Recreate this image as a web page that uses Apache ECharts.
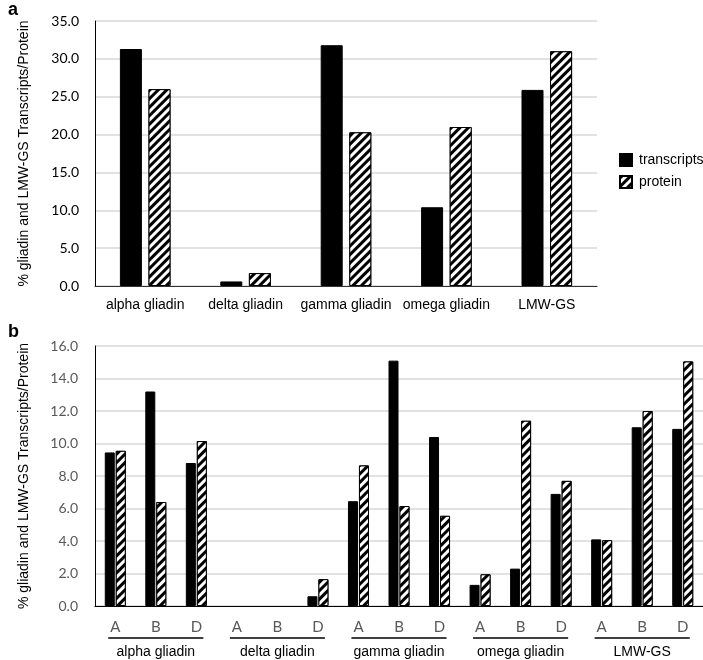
<!DOCTYPE html>
<html>
<head>
<meta charset="utf-8">
<script src="https://cdn.jsdelivr.net/npm/echarts@6/dist/echarts.min.js"></script>
<style>
html,body{margin:0;padding:0;background:#fff;}
#c{width:703px;height:660px;}
</style>
</head>
<body>
<div id="c"></div>
<script>
// ---- data ----
const categoriesA = ['alpha gliadin', 'delta gliadin', 'gamma gliadin', 'omega gliadin', 'LMW-GS'];
const transcriptsA = [31.3, 0.6, 31.8, 10.4, 25.9];
const proteinA = [26.0, 1.7, 20.3, 21.0, 31.0];

const genomeLabels = ['A', 'B', 'D', 'A', 'B', 'D', 'A', 'B', 'D', 'A', 'B', 'D', 'A', 'B', 'D'];
const groupLabels = ['alpha gliadin', 'delta gliadin', 'gamma gliadin', 'omega gliadin', 'LMW-GS'];
const transcriptsB = [9.45, 13.2, 8.8, 0, 0, 0.6, 6.45, 15.1, 10.4, 1.3, 2.3, 6.9, 4.1, 11.0, 10.9];
const proteinB = [9.55, 6.4, 10.15, 0, 0, 1.65, 8.65, 6.15, 5.55, 1.95, 11.4, 7.7, 4.05, 12.0, 15.05];

const seriesNames = ['transcripts', 'protein'];
const yTitle = '% gliadin and LMW-GS Transcripts/Protein';

// zero values are not drawn as visible bars in the original
const hideZero = arr => arr.map(v => (v === 0 ? null : v));

// ---- styles ----
const ARIAL = '"Liberation Sans", Arial, sans-serif';
const CAL = 'Lato, "Open Sans", sans-serif';
const hatch = {
  symbol: 'rect', symbolSize: 1,
  dashArrayX: [1, 0], dashArrayY: [3, 3],
  rotation: -Math.PI / 4, color: '#000', backgroundColor: '#fff'
};
const solidStyle = { color: '#000', borderColor: '#000', borderWidth: 1 };
const hatchStyle = { color: '#fff', borderColor: '#000', borderWidth: 1, decal: hatch };

const chart = echarts.init(document.getElementById('c'), null, { renderer: 'canvas' });

const option = {
  animation: false,
  aria: { enabled: false },
  title: [
    { text: 'a', left: 3, top: -4, textStyle: { fontFamily: ARIAL, fontWeight: 'bold', fontSize: 18, color: '#000' } },
    { text: 'b', left: 3, top: 318, textStyle: { fontFamily: ARIAL, fontWeight: 'bold', fontSize: 18, color: '#000' } }
  ],
  legend: {
    data: seriesNames.map(n => ({ name: n, icon: 'rect' })),
    orient: 'vertical',
    left: 614, top: 148,
    itemWidth: 12, itemHeight: 12, itemGap: 8,
    textStyle: { fontFamily: ARIAL, fontSize: 14, color: '#000', padding: [0, 0, 0, 2] }
  },
  grid: [
    { left: 95, top: 21, width: 502, height: 265 },
    { left: 95, top: 346, width: 608, height: 260 }
  ],
  xAxis: [
    {
      type: 'category', gridIndex: 0, data: categoriesA,
      axisLine: { lineStyle: { color: '#333', width: 1 } },
      axisTick: { show: false },
      axisLabel: { fontFamily: ARIAL, fontSize: 14, color: '#000', margin: 12, interval: 0 }
    },
    {
      type: 'category', gridIndex: 1, data: genomeLabels,
      axisLine: { lineStyle: { color: '#000', width: 1.2 } },
      axisTick: { show: false },
      axisLabel: { fontFamily: CAL, fontSize: 15, color: '#595959', margin: 14, interval: 0 }
    },
    {
      type: 'category', gridIndex: 1, data: groupLabels, position: 'bottom',
      axisLine: { show: false }, axisTick: { show: false }, splitLine: { show: false },
      axisLabel: {
        interval: 0, margin: 32,
        formatter: function (v) { return '{hr|}\n{t|' + v + '}'; },
        rich: {
          hr: { width: 95, height: 0, borderColor: '#000', borderWidth: 1 },
          t: { fontFamily: ARIAL, fontSize: 14, color: '#000', lineHeight: 28, align: 'center' }
        }
      }
    }
  ],
  yAxis: [
    {
      type: 'value', gridIndex: 0, min: 0, max: 35, interval: 5,
      name: yTitle, nameLocation: 'middle', nameGap: 64,
      nameTextStyle: { fontFamily: ARIAL, fontSize: 14, color: '#000' },
      axisLine: { show: true, lineStyle: { color: '#000', width: 1 } },
      axisTick: { show: false },
      axisLabel: { fontFamily: CAL, fontSize: 14, color: '#000', margin: 16, formatter: v => v.toFixed(1) },
      splitLine: { lineStyle: { color: '#d9d9d9', width: 1.5 } }
    },
    {
      type: 'value', gridIndex: 1, min: 0, max: 16, interval: 2,
      name: yTitle, nameLocation: 'middle', nameGap: 64,
      nameTextStyle: { fontFamily: ARIAL, fontSize: 14, color: '#000' },
      axisLine: { show: true, lineStyle: { color: '#000', width: 1 } },
      axisTick: { show: false },
      axisLabel: { fontFamily: CAL, fontSize: 14, color: '#595959', margin: 17, formatter: v => v.toFixed(1) },
      splitLine: { lineStyle: { color: '#d9d9d9', width: 1.5 } }
    }
  ],
  series: [
    { name: 'transcripts', type: 'bar', xAxisIndex: 0, yAxisIndex: 0, data: transcriptsA,
      barWidth: 22, barGap: '30%', itemStyle: solidStyle },
    { name: 'protein', type: 'bar', xAxisIndex: 0, yAxisIndex: 0, data: proteinA,
      barWidth: 22, barGap: '30%', itemStyle: hatchStyle },
    { name: 'transcripts', type: 'bar', xAxisIndex: 1, yAxisIndex: 1, data: hideZero(transcriptsB),
      barWidth: 10, barGap: '10%', itemStyle: solidStyle },
    { name: 'protein', type: 'bar', xAxisIndex: 1, yAxisIndex: 1, data: hideZero(proteinB),
      barWidth: 10, barGap: '10%', itemStyle: hatchStyle }
  ]
};
chart.setOption(option);
</script>
</body>
</html>
